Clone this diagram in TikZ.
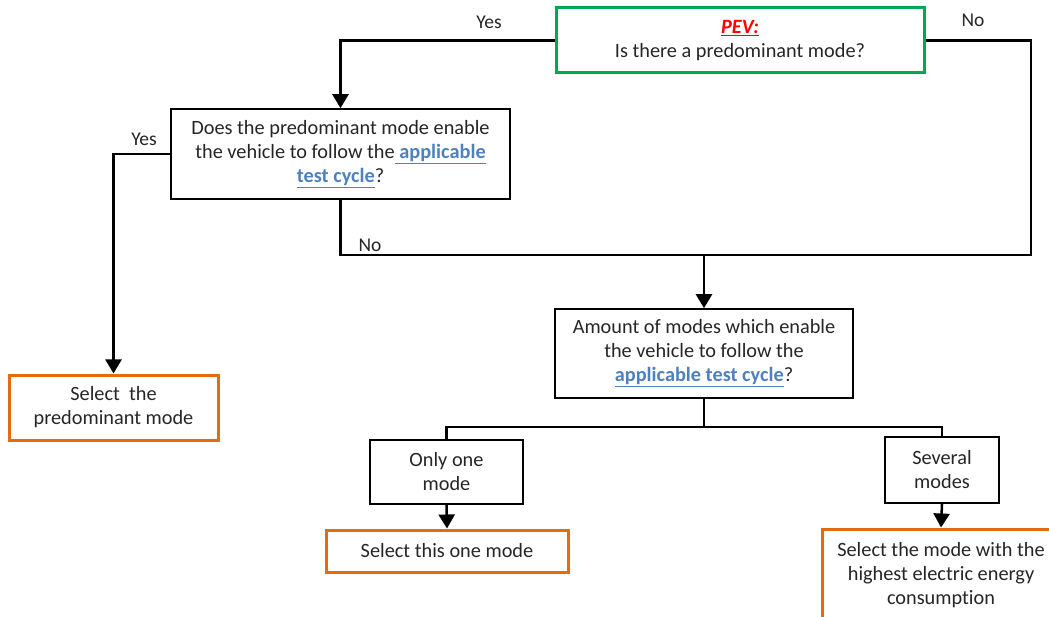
\documentclass[tikz,border=0pt]{standalone}
\usepackage{fontspec}
\setmainfont[Ligatures=NoCommon]{Carlito}
\usetikzlibrary{arrows.meta}
\definecolor{boxgreen}{RGB}{0,168,80}
\definecolor{boxorange}{RGB}{226,108,14}
\definecolor{linkblue}{RGB}{79,129,189}
\definecolor{txt}{RGB}{38,38,38}
\definecolor{pevred}{RGB}{255,0,0}
\newcommand{\lnk}[1]{\textcolor{linkblue}{\underline{\textbf{#1}}}}
\tikzset{
  box/.style={draw=black, line width=1.6pt, fill=white, inner sep=0pt, align=center, text=txt,
    font=\fontsize{20.3}{24}\selectfont},
  greenbox/.style={box, draw=boxgreen, line width=3pt},
  orangebox/.style={box, draw=boxorange, line width=3pt},
  conn/.style={line width=2.5pt, draw=black},
  arr/.style={conn, -{Triangle[length=14pt,width=16pt]}},
  lbl/.style={text=txt, font=\fontsize{19.5}{23}\selectfont, inner sep=0pt}
}
\begin{document}
\begin{tikzpicture}[x=1pt,y=-1pt]
\clip (0,0) rectangle (1049,617);
\fill[white] (0,0) rectangle (1049,617);
% nodes
\node[greenbox, minimum width=368pt, minimum height=65pt] (pev) at (740,40.5)
  {\textcolor{pevred}{\underline{\textbf{\textit{PEV:}}}}\\Is there a predominant mode?};
\node[box, minimum width=339pt, minimum height=90pt] (q2) at (340.5,154)
  {Does the predominant mode enable\\the vehicle to follow the\lnk{\ applicable}\\\lnk{test cycle}?};
\node[box, minimum width=298pt, minimum height=89pt] (q3) at (704,353.5)
  {Amount of modes which enable\\the vehicle to follow the\\\lnk{applicable test cycle}?};
\node[box, minimum width=153pt, minimum height=64pt] (one) at (446.5,472)
  {Only one\\mode};
\node[box, minimum width=114pt, minimum height=66pt] (sev) at (942,470)
  {Several\\modes};
\node[orangebox, minimum width=209pt, minimum height=65pt] (selpre) at (113.5,407.5)
  {Select\ \ the\\predominant mode};
\node[orangebox, minimum width=242pt, minimum height=42pt] (selone) at (447,551)
  {Select this one mode};
\node[orangebox, minimum width=238pt, minimum height=92pt] (selhigh) at (941,575)
  {Select the mode with the\\highest electric energy\\consumption};
% helper coordinates
\coordinate (rt) at (1031,255);
\coordinate (bus) at (705,427);
% connectors
\draw[arr] (pev.west) -| (q2.north);
\draw[conn] (pev.east) -| (rt) -- (q2.south |- rt) -- (q2.south);
\draw[arr] (q3.north |- rt) -- (q3.north);
\draw[arr] (q2.west) -| (selpre.north);
\draw[conn] (q3.south) -- (q3.south |- bus);
\draw[conn] (one.north) -- (one.north |- bus) -- (sev.north |- bus) -- (sev.north);
\draw[arr] (one.south) -- (selone.north);
\draw[arr] (sev.south) -- (selhigh.north);
% labels
\node[lbl] (yes1) at (489,22) {Yes};
\node[lbl] (no1) at (973,20) {No};
\node[lbl] (yes2) at (144,139) {Yes};
\node[lbl] (no2) at (370,245) {No};
\end{tikzpicture}
\end{document}
